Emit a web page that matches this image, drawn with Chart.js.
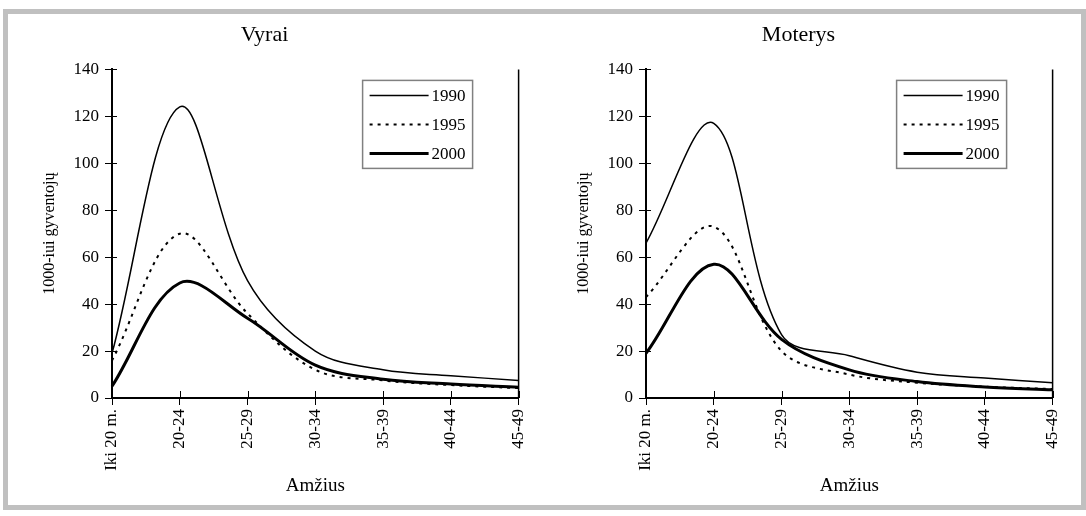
<!DOCTYPE html>
<html>
<head>
<meta charset="utf-8">
<script src="https://cdn.jsdelivr.net/npm/chart.js@4.4.0/dist/chart.umd.min.js"></script>
<style>
    body { margin: 0; background: #fff; width: 1086px; height: 516px; overflow: hidden; position: relative; }
    .panel { position: absolute; top: 0; width: 543px; height: 516px; }
    .frame { position: absolute; left: 3px; top: 9px; width: 1073px; height: 491px; border: 5px solid #c0c0c0; pointer-events: none; }
</style>
</head>
<body>
<div class="panel" style="left:0"><canvas id="vyraiChart"></canvas></div>
<div class="panel" style="left:534px"><canvas id="moterysChart"></canvas></div>
<div class="frame"></div>

<script>
// ============================================
// Gimstamumas pagal amžių: Vyrai / Moterys
// ============================================

// Data
var ageGroups = ['Iki 20 m.', '20-24', '25-29', '30-34', '35-39', '40-44', '45-49'];
var years = ['1990', '1995', '2000'];
var yTicks = [0, 20, 40, 60, 80, 100, 120, 140];

var vyrai1990 = [19, 124, 50, 20, 12, 9.5, 7.5];
var vyrai1995 = [16, 70, 36, 12, 7.5, 5.5, 4.2];
var vyrai2000 = [5, 49, 34, 14, 8, 6, 4.6];

var moterys1990 = [66, 117, 27, 18, 11, 8.5, 6.5];
var moterys1995 = [43, 73, 20, 10, 6.5, 4.8, 3.8];
var moterys2000 = [19, 57, 25, 12, 7, 4.7, 3.5];

var FONT = '"Liberation Serif", "Times New Roman", serif';

// Line styles for each year
var lineStyles = [
    { width: 1.5, dash: [] },
    { width: 2, dash: [3, 5] },
    { width: 3, dash: [] }
];

// Right border of plot + inner halves of tick marks
var plotFrame = {
    id: 'plotFrame',
    afterDraw: function(chart) {
        var ctx = chart.ctx;
        var area = chart.chartArea;
        ctx.save();
        ctx.strokeStyle = '#000';
        ctx.lineWidth = 1.5;
        ctx.beginPath();
        ctx.moveTo(area.right, area.top);
        ctx.lineTo(area.right, area.bottom);
        ctx.stroke();

        ctx.lineWidth = 1;
        var xs = chart.scales.x;
        for (var i = 0; i < ageGroups.length; i++) {
            var px = Math.round(xs.getPixelForValue(i)) + 0.5;
            ctx.beginPath();
            ctx.moveTo(px, area.bottom);
            ctx.lineTo(px, area.bottom - 7);
            ctx.stroke();
        }
        var ys = chart.scales.y;
        for (var j = 0; j < yTicks.length; j++) {
            var py = Math.round(ys.getPixelForValue(yTicks[j])) + 0.5;
            ctx.beginPath();
            ctx.moveTo(area.left, py);
            ctx.lineTo(area.left + 5, py);
            ctx.stroke();
        }
        ctx.restore();
    }
};

// Boxed legend inside the plot, top right
var boxLegend = {
    id: 'boxLegend',
    afterDraw: function(chart) {
        var ctx = chart.ctx;
        var area = chart.chartArea;
        var w = 110, h = 88;
        var left = area.right - 46 - w;
        var top = area.top + 11;
        ctx.save();
        ctx.fillStyle = '#fff';
        ctx.fillRect(left, top, w, h);
        ctx.strokeStyle = '#808080';
        ctx.lineWidth = 1.5;
        ctx.strokeRect(left, top, w, h);

        ctx.font = '17px ' + FONT;
        ctx.textBaseline = 'middle';
        ctx.textAlign = 'left';
        ctx.fillStyle = '#000';
        var ds = chart.data.datasets;
        for (var i = 0; i < ds.length; i++) {
            var y = top + 15 + i * 29;
            ctx.strokeStyle = '#000';
            ctx.lineWidth = ds[i].borderWidth;
            ctx.setLineDash(ds[i].borderDash || []);
            ctx.beginPath();
            ctx.moveTo(left + 7, y);
            ctx.lineTo(left + 66, y);
            ctx.stroke();
            ctx.setLineDash([]);
            ctx.fillText(ds[i].label, left + 69, y + 1);
        }
        ctx.restore();
    }
};

function makeDatasets(values) {
    var sets = [];
    for (var i = 0; i < years.length; i++) {
        sets.push({
            label: years[i],
            data: values[i],
            borderColor: '#000',
            borderWidth: lineStyles[i].width,
            borderDash: lineStyles[i].dash,
            pointRadius: 0,
            tension: 0.35,
            fill: false
        });
    }
    return sets;
}

function makeChart(canvasId, titleText, values) {
    var ctx = document.getElementById(canvasId).getContext('2d');
    return new Chart(ctx, {
        type: 'line',
        data: { labels: ageGroups, datasets: makeDatasets(values) },
        options: {
            responsive: true,
            maintainAspectRatio: false,
            animation: false,
            layout: { padding: { left: 0, right: 14, top: 0, bottom: 0 } },
            plugins: {
                legend: { display: false },
                tooltip: { enabled: false },
                title: {
                    display: true,
                    text: titleText,
                    color: '#000',
                    font: { family: FONT, size: 22, weight: 'normal' },
                    padding: { top: 22, bottom: 21 }
                }
            },
            scales: {
                x: {
                    type: 'category',
                    offset: false,
                    border: { display: true, color: '#000', width: 2 },
                    grid: { display: true, drawOnChartArea: false, drawTicks: true, tickLength: 7, color: '#000' },
                    ticks: {
                        color: '#000',
                        font: { family: FONT, size: 17 },
                        minRotation: 90,
                        maxRotation: 90,
                        autoSkip: false,
                        padding: 4
                    },
                    title: {
                        display: true,
                        text: 'Amžius',
                        color: '#000',
                        font: { family: FONT, size: 19 },
                        padding: { top: 0, bottom: 19 }
                    },
                    afterFit: function(scale) { scale.height = 118; }
                },
                y: {
                    min: 0,
                    max: 140,
                    border: { display: true, color: '#000', width: 2 },
                    grid: { display: true, drawOnChartArea: false, drawTicks: true, tickLength: 7, color: '#000' },
                    ticks: {
                        stepSize: 20,
                        color: '#000',
                        font: { family: FONT, size: 17 },
                        padding: 6
                    },
                    title: {
                        display: true,
                        text: '1000-iui gyventojų',
                        color: '#000',
                        font: { family: FONT, size: 16 },
                        padding: { top: 40, bottom: 0 }
                    },
                    afterFit: function(scale) { scale.width = 112; }
                }
            }
        },
        plugins: [plotFrame, boxLegend]
    });
}

document.addEventListener('DOMContentLoaded', function() {
    makeChart('vyraiChart', 'Vyrai', [vyrai1990, vyrai1995, vyrai2000]);
    makeChart('moterysChart', 'Moterys', [moterys1990, moterys1995, moterys2000]);
});
</script>
</body>
</html>
